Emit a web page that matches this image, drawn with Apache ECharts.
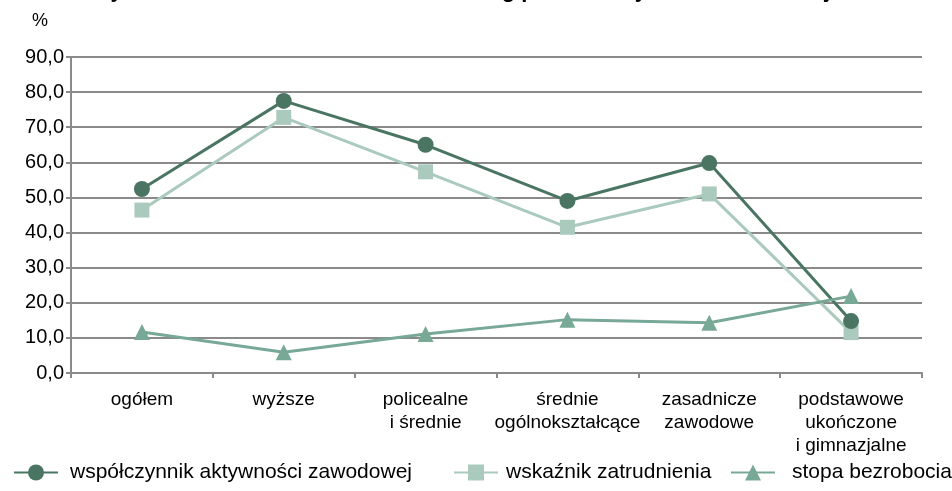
<!DOCTYPE html>
<html lang="pl">
<head>
<meta charset="UTF-8">
<title>Wykształcenie</title>
<script src="https://cdn.jsdelivr.net/npm/echarts@6/dist/echarts.min.js"></script>
<style>
  body { margin: 0; background: #fff; }
  #main { width: 952px; height: 491px; }
</style>
</head>
<body>
<div id="main"></div>
<script>
var categories = ['ogółem', 'wyższe', 'policealne\ni średnie', 'średnie\nogólnokształcące', 'zasadnicze\nzawodowe', 'podstawowe\nukończone\ni gimnazjalne'];
var aktywnosc = [52.4, 77.5, 65.0, 49.0, 59.8, 14.8];
var zatrudnienie = [46.4, 72.8, 57.3, 41.5, 51.0, 11.5];
var bezrobocie = [11.7, 5.9, 11.1, 15.2, 14.3, 21.9];
var seriesNames = ['współczynnik aktywności zawodowej', 'wskaźnik zatrudnienia', 'stopa bezrobocia'];

var font = 'Liberation Sans, Arial, sans-serif';
var gridGray = '#8a8a8a';

var myChart = echarts.init(document.getElementById('main'));

// one legend per item so the gaps can follow the original
function legendAt(name, left, textGap) {
    return {
        data: [name],
        left: left,
        top: 457,
        itemWidth: 44,
        itemHeight: 20,
        textStyle: { fontFamily: font, fontSize: 21, color: '#000', padding: [0, 0, 0, textGap] }
    };
}

var option = {
    animation: false,
    // title is cut off at the top edge in the original
    title: {
        text: 'Aktywność ekonomiczna ludności według poziomu wykształcenia w województwie',
        left: 70,
        top: -25,
        textStyle: { fontFamily: font, fontSize: 22, fontWeight: 'bold', color: '#000' }
    },
    graphic: [{
        type: 'text',
        left: 32,
        top: 12,
        style: { text: '%', font: '18px ' + font, fill: '#000' }
    }],
    legend: [
        legendAt(seriesNames[0], 8, 7),
        legendAt(seriesNames[1], 448, 3),
        legendAt(seriesNames[2], 725, 12)
    ],
    grid: { left: 71, right: 30, top: 57, bottom: 118 },
    xAxis: {
        type: 'category',
        data: categories,
        boundaryGap: true,
        axisLine: { lineStyle: { color: gridGray, width: 2 } },
        axisTick: { show: true, length: 5, lineStyle: { color: gridGray, width: 2 } },
        axisLabel: {
            interval: 0,
            margin: 15,
            fontFamily: font,
            fontSize: 19,
            color: '#000',
            lineHeight: 23
        }
    },
    yAxis: {
        type: 'value',
        min: 0,
        max: 90,
        interval: 10,
        axisLine: { show: true, lineStyle: { color: gridGray, width: 2 } },
        axisTick: { show: true, length: 5, lineStyle: { color: gridGray, width: 2 } },
        splitLine: { lineStyle: { color: gridGray, width: 2 } },
        axisLabel: {
            margin: 7,
            fontFamily: font,
            fontSize: 20,
            color: '#000',
            formatter: function (v) { return v.toFixed(1).replace('.', ','); }
        }
    },
    series: [
        {
            name: seriesNames[0],
            type: 'line',
            data: aktywnosc,
            symbol: 'circle',
            symbolSize: 16,
            z: 4,
            lineStyle: { color: '#4a7563', width: 3 },
            itemStyle: { color: '#4a7563' }
        },
        {
            name: seriesNames[1],
            type: 'line',
            data: zatrudnienie,
            symbol: 'rect',
            symbolSize: 15,
            z: 3,
            lineStyle: { color: '#abcabe', width: 3 },
            itemStyle: { color: '#abcabe' }
        },
        {
            name: seriesNames[2],
            type: 'line',
            data: bezrobocie,
            symbol: 'triangle',
            symbolSize: 16,
            z: 5,
            lineStyle: { color: '#78a896', width: 3 },
            itemStyle: { color: '#78a896' }
        }
    ]
};

myChart.setOption(option);
</script>
</body>
</html>
